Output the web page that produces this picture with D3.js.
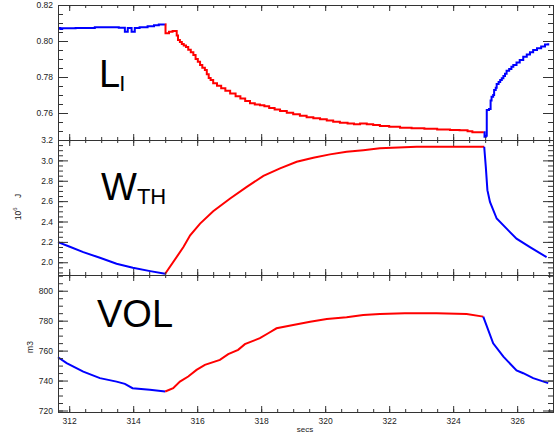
<!DOCTYPE html>
<html>
<head>
<meta charset="utf-8">
<script src="https://cdn.jsdelivr.net/npm/d3@7"></script>
<style>
body { margin: 0; background: #fff; }
svg { display: block; font-family: "Liberation Sans", Arial, sans-serif; }
</style>
</head>
<body>
<svg id="chart" width="555" height="434"></svg>
<script>
// tick labels
var timeTicks = [312, 314, 316, 318, 320, 322, 324, 326];
var liTicks = [0.76, 0.78, 0.80, 0.82];
var wthTicks = [2.0, 2.2, 2.4, 2.6, 2.8, 3.0, 3.2];
var volTicks = [720, 740, 760, 780, 800];

// internal inductance (stepped signal), [secs, value]
var liBefore = [[311.65, 0.8072], [311.72, 0.8066], [311.78, 0.8071], [312.20, 0.8072], [312.80, 0.8076],
  [313.30, 0.8077], [313.55, 0.8074], [313.74, 0.8052], [313.83, 0.8072], [313.95, 0.8052], [314.05, 0.8072],
  [314.20, 0.8077], [314.45, 0.8082], [314.65, 0.8087], [314.80, 0.8091], [315.00, 0.8093]];
var liHeat = [[315.00, 0.8093], [315.01, 0.8043], [315.12, 0.8052], [315.23, 0.8056], [315.36, 0.8030], [315.40, 0.8006],
  [315.46, 0.7995], [315.52, 0.7983], [315.58, 0.7975], [315.65, 0.7966], [315.72, 0.7952], [315.80, 0.7938],
  [315.88, 0.7922], [315.95, 0.7900], [316.02, 0.7885], [316.09, 0.7867], [316.16, 0.7852], [316.24, 0.7839],
  [316.30, 0.7815], [316.36, 0.7795], [316.42, 0.7783], [316.50, 0.7765], [316.62, 0.7752], [316.75, 0.7738],
  [316.88, 0.7724], [317.03, 0.7709], [317.20, 0.7693], [317.35, 0.7680], [317.50, 0.7666], [317.65, 0.7654],
  [317.80, 0.7647], [317.96, 0.7643], [318.10, 0.7637], [318.25, 0.7628], [318.42, 0.7619], [318.59, 0.7611],
  [318.80, 0.7602], [319.00, 0.7593], [319.21, 0.7585], [319.42, 0.7577], [319.63, 0.7571], [319.84, 0.7565],
  [320.05, 0.7558], [320.25, 0.7552], [320.46, 0.7546], [320.70, 0.7541], [320.90, 0.7538], [321.09, 0.7541],
  [321.30, 0.7538], [321.50, 0.7533], [321.71, 0.7528], [322.00, 0.7524], [322.34, 0.7518], [322.70, 0.7515],
  [323.10, 0.7512], [323.50, 0.7509], [323.90, 0.7506], [324.20, 0.7504], [324.45, 0.7498], [324.60, 0.7493],
  [324.96, 0.7493]];
var liAfter = [[324.96, 0.7493], [324.98, 0.7468], [325.02, 0.7473], [325.05, 0.7617], [325.12, 0.7622],
  [325.17, 0.7670], [325.20, 0.7690], [325.25, 0.7700], [325.28, 0.7728], [325.33, 0.7740], [325.36, 0.7761],
  [325.42, 0.7772], [325.47, 0.7783], [325.52, 0.7793], [325.57, 0.7805], [325.62, 0.7818], [325.67, 0.7835],
  [325.75, 0.7845], [325.82, 0.7857], [325.88, 0.7867], [325.98, 0.7880], [326.08, 0.7895], [326.19, 0.7913],
  [326.30, 0.7925], [326.40, 0.7938], [326.50, 0.7950], [326.62, 0.7960], [326.75, 0.7970], [326.87, 0.7980],
  [326.97, 0.7987]];

// thermal energy, 10^6 J
var wthBefore = [[311.65, 2.198], [312.00, 2.155], [312.44, 2.100], [312.96, 2.044], [313.48, 1.985],
  [313.99, 1.946], [314.53, 1.913], [315.00, 1.887]];
var wthHeat = [[315.00, 1.887], [315.57, 2.149], [315.78, 2.264], [316.09, 2.379], [316.50, 2.501],
  [317.03, 2.626], [317.55, 2.740], [318.07, 2.848], [318.59, 2.921], [319.11, 2.986], [319.63, 3.026],
  [320.15, 3.059], [320.67, 3.085], [321.19, 3.100], [321.71, 3.118], [322.86, 3.134], [324.97, 3.134]];
var wthAfter = [[324.97, 3.134], [325.02, 2.937], [325.07, 2.708], [325.15, 2.592], [325.36, 2.429],
  [325.67, 2.330], [325.98, 2.232], [326.40, 2.149], [326.92, 2.050]];

// plasma volume, m3
var volBefore = [[311.65, 755.6], [311.92, 751.6], [312.44, 746.0], [312.96, 741.6], [313.48, 739.3],
  [313.74, 737.8], [313.98, 734.9], [314.52, 733.8], [315.00, 732.7]];
var volHeat = [[315.00, 732.7], [315.25, 734.9], [315.46, 739.3], [315.72, 742.7], [315.98, 747.1],
  [316.24, 750.5], [316.71, 753.8], [316.97, 757.6], [317.28, 760.5], [317.49, 764.3], [317.96, 768.3],
  [318.22, 771.6], [318.48, 774.9], [319.00, 777.1], [319.53, 779.3], [320.05, 781.1], [320.67, 782.3],
  [321.19, 783.8], [321.71, 784.5], [322.49, 784.9], [323.48, 784.9], [324.42, 784.5], [324.94, 782.7]];
var volAfter = [[324.94, 782.7], [325.25, 764.9], [325.57, 756.0], [325.98, 746.7], [326.19, 744.9],
  [326.50, 741.6], [326.97, 738.3]];

var svg = d3.select('#chart');
var left = 58, right = 553;
var x = d3.scaleLinear().domain([311.65, 327.12]).range([left, right]);
var xMinor = d3.range(312, 327.01, 0.5);

var panels = [
  { top: 5, bottom: 140, domain: [0.745, 0.82], ticks: liTicks, minor: 0.005, fmt: d3.format('.2f'),
    step: true, series: [liBefore, liHeat, liAfter] },
  { top: 140, bottom: 275, domain: [1.875, 3.2], ticks: wthTicks, minor: 0.05, fmt: d3.format('.1f'),
    step: false, series: [wthBefore, wthHeat, wthAfter] },
  { top: 275, bottom: 412, domain: [719, 810.5], ticks: volTicks, minor: 5, fmt: d3.format('d'),
    step: false, series: [volBefore, volHeat, volAfter] }
];
var colors = ['#0000ff', '#ff0000', '#0000ff'];

function styleAxis(g) {
  g.select('.domain').remove();
  g.selectAll('line').attr('stroke', '#333');
  g.selectAll('text').attr('fill', '#222').attr('font-size', 8.5);
}

panels.forEach(function(p, i) {
  var y = d3.scaleLinear().domain(p.domain).range([p.bottom, p.top]);
  var yMinor = d3.range(Math.ceil(p.domain[0] / p.minor) * p.minor, p.domain[1] + p.minor / 2, p.minor);
  var g = svg.append('g');

  // lines
  var line = d3.line().x(d => x(d[0])).y(d => y(d[1])).curve(p.step ? d3.curveStepAfter : d3.curveLinear);
  p.series.forEach(function(s, j) {
    g.append('path').datum(s)
      .attr('fill', 'none')
      .attr('stroke', colors[j])
      .attr('stroke-width', 2)
      .attr('d', line);
  });

  // left / right
  g.append('g').attr('transform', `translate(${left},0)`)
    .call(d3.axisLeft(y).tickValues(yMinor).tickSizeInner(-5).tickSizeOuter(0).tickFormat('')).call(styleAxis);
  g.append('g').attr('transform', `translate(${left},0)`)
    .call(d3.axisLeft(y).tickValues(p.ticks).tickSizeInner(-10).tickSizeOuter(0).tickPadding(5).tickFormat(p.fmt))
    .call(styleAxis);
  g.append('g').attr('transform', `translate(${right},0)`)
    .call(d3.axisRight(y).tickValues(yMinor).tickSizeInner(-5).tickSizeOuter(0).tickFormat('')).call(styleAxis);
  g.append('g').attr('transform', `translate(${right},0)`)
    .call(d3.axisRight(y).tickValues(p.ticks).tickSizeInner(-10).tickSizeOuter(0).tickFormat('')).call(styleAxis);

  // top / bottom
  g.append('g').attr('transform', `translate(0,${p.top})`)
    .call(d3.axisTop(x).tickValues(xMinor).tickSizeInner(-3).tickSizeOuter(0).tickFormat('')).call(styleAxis);
  g.append('g').attr('transform', `translate(0,${p.top})`)
    .call(d3.axisTop(x).tickValues(timeTicks).tickSizeInner(-6).tickSizeOuter(0).tickFormat('')).call(styleAxis);
  g.append('g').attr('transform', `translate(0,${p.bottom})`)
    .call(d3.axisBottom(x).tickValues(xMinor).tickSizeInner(-3).tickSizeOuter(0).tickFormat('')).call(styleAxis);
  g.append('g').attr('transform', `translate(0,${p.bottom})`)
    .call(d3.axisBottom(x).tickValues(timeTicks).tickSizeInner(-6).tickSizeOuter(0).tickPadding(6)
      .tickFormat(i == 2 ? d3.format('d') : '')).call(styleAxis);

  g.append('rect')
    .attr('x', left + 0.5).attr('y', p.top + 0.5)
    .attr('width', right - left).attr('height', p.bottom - p.top)
    .attr('fill', 'none').attr('stroke', '#333');
});

// big panel names
function bigLabel(px, py, main, sub, subDx) {
  var t = svg.append('text').attr('x', px).attr('y', py).attr('fill', '#000');
  t.append('tspan').attr('font-size', 38).text(main);
  t.append('tspan').attr('font-size', 22).attr('dx', subDx).attr('dy', 4).text(sub);
}
bigLabel(99, 87, 'L', 'I', -1);
bigLabel(101, 200, 'W', 'TH', 0);
bigLabel(97, 327, 'VOL', '', 0);

// axis titles
var yt = svg.append('text').attr('transform', 'translate(21,207) rotate(-90)')
  .attr('text-anchor', 'middle').attr('font-size', 8.5).attr('fill', '#222');
yt.append('tspan').text('10');
yt.append('tspan').attr('font-size', 6).attr('dy', -4).text('6');
yt.append('tspan').attr('dy', 4).text('\u00a0\u00a0\u00a0 J');

svg.append('text').attr('transform', 'translate(33,347) rotate(-90)')
  .attr('text-anchor', 'middle').attr('font-size', 8.5).attr('fill', '#222').text('m3');

svg.append('text').attr('x', 305).attr('y', 432)
  .attr('text-anchor', 'middle').attr('font-size', 8).attr('fill', '#222').text('secs');
</script>
</body>
</html>
